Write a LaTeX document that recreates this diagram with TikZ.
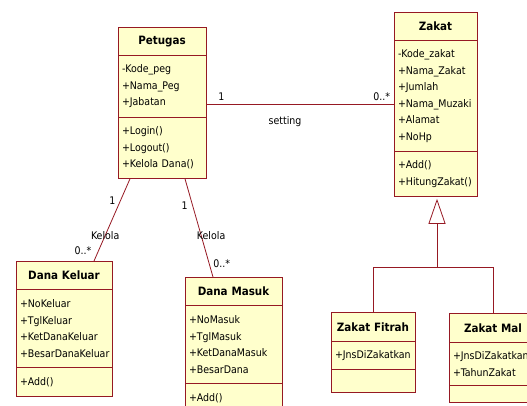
\documentclass[tikz,border=0pt]{standalone}
\usepackage{fontspec}
\setmainfont{DejaVu Sans Condensed}
\usetikzlibrary{arrows.meta,positioning,chains,calc}
\definecolor{umlred}{RGB}{150,25,35}
\definecolor{umlfill}{RGB}{255,255,204}
\newcommand\umlfont{\fontsize{10.5}{16.5}\selectfont\hyphenpenalty=10000\exhyphenpenalty=10000}
\edef\namehead{28pt}
\tikzstyle{classpart}=[draw=umlred,fill=umlfill,line width=0.8pt,inner xsep=4pt,inner ysep=0pt,font=\umlfont]
\tikzstyle{classname}=[classpart,align=center,font=\umlfont\fontsize{11.5}{16.5}\selectfont\bfseries]
\tikzstyle{classbody}=[classpart,align=left]
\tikzstyle{umlline}=[draw=umlred,line width=0.8pt]
\tikzstyle{umllabel}=[font=\umlfont,inner sep=1pt]

\begin{document}
\begin{tikzpicture}[x=1pt,y=-1pt]
	\useasboundingbox (0,0) rectangle (527,405);
	% Petugas
	\begin{scope}[start chain=petugas going below, node distance=-0.8pt, every node/.append style={text width=80pt}]
	\node [on chain,classname,minimum height=\namehead,anchor=north] (pt-head) at (162,27) {Petugas};
	\node [on chain,classbody,minimum height=62pt] (pt-attr) {-Kode\_peg\\+Nama\_Peg\\+Jabatan};
	\node [on chain,classbody,minimum height=61pt] (pt-ops) {+Login()\\+Logout()\\+Kelola Dana()};
	\end{scope}
	% Zakat
	\begin{scope}[start chain=zakat going below, node distance=-0.8pt, every node/.append style={text width=75pt}]
	\node [on chain,classname,minimum height=\namehead,anchor=north] (zk-head) at (435.5,12) {Zakat};
	\node [on chain,classbody,minimum height=111pt] (zk-attr) {-Kode\_zakat\\+Nama\_Zakat\\+Jumlah\\+Nama\_Muzaki\\+Alamat\\+NoHp};
	\node [on chain,classbody,minimum height=45pt] (zk-ops) {+Add()\\+HitungZakat()};
	\end{scope}
	% Dana Keluar
	\begin{scope}[start chain=keluar going below, node distance=-0.8pt, every node/.append style={text width=88pt}]
	\node [on chain,classname,minimum height=\namehead,anchor=north] (dk-head) at (64,261) {Dana Keluar};
	\node [on chain,classbody,minimum height=78pt] (dk-attr) {+NoKeluar\\+TglKeluar\\+KetDanaKeluar\\+BesarDanaKeluar};
	\node [on chain,classbody,minimum height=29pt] (dk-ops) {+Add()};
	\end{scope}
	% Dana Masuk
	\begin{scope}[start chain=masuk going below, node distance=-0.8pt, every node/.append style={text width=89pt}]
	\node [on chain,classname,minimum height=\namehead,anchor=north] (dm-head) at (233.5,277) {Dana Masuk};
	\node [on chain,classbody,minimum height=78pt] (dm-attr) {+NoMasuk\\+TglMasuk\\+KetDanaMasuk\\+BesarDana};
	\node [on chain,classbody,minimum height=29pt] (dm-ops) {+Add()};
	\end{scope}
	% Zakat Fitrah
	\begin{scope}[start chain=fitrah going below, node distance=-0.8pt, every node/.append style={text width=76pt}]
	\node [on chain,classname,minimum height=29pt,anchor=north] (zf-head) at (373,312) {Zakat Fitrah};
	\node [on chain,classbody,minimum height=28pt] (zf-attr) {+JnsDiZakatkan};
	\node [on chain,classbody,minimum height=23pt] (zf-ops) {};
	\end{scope}
	% Zakat Mal
	\begin{scope}[start chain=mal going below, node distance=-0.8pt, every node/.append style={text width=80pt}]
	\node [on chain,classname,minimum height=29pt,anchor=north] (zm-head) at (493,313) {Zakat Mal};
	\node [on chain,classbody,minimum height=43pt] (zm-attr) {+JnsDiZakatkan\\+TahunZakat};
	\node [on chain,classbody,minimum height=17pt] (zm-ops) {};
	\end{scope}
	
	% associations
	\coordinate (set-a) at ([yshift=-18pt]pt-attr.east);
	\draw[umlline] (set-a) -- (set-a -| zk-attr.west)
		node[umllabel,pos=0.08,above=3pt] {1}
		node[umllabel,pos=1,above left=3pt] {0..*}
		node[umllabel,pos=0.42,below=11pt] {setting};
	\draw[umlline] ([xshift=-32pt]pt-ops.south) -- ([xshift=30pt]dk-head.north)
		node[umllabel,pos=0.27,left=3.5pt] {1}
		node[umllabel,pos=0.69] {Kelola}
		node[umllabel,pos=0.87,left=6pt] {0..*};
	\draw[umlline] ([xshift=23pt]pt-ops.south) -- ([xshift=-20.5pt]dm-head.north)
		node[umllabel,pos=0.27,left=3.5pt] {1}
		node[umllabel,pos=0.576,xshift=10pt] {Kelola}
		node[umllabel,pos=0.86,right=3pt] {0..*};
	
	% generalization
	\coordinate (gen) at ($(zk-ops.south)+(1.5,71)$);
	\draw[umlline,-{Triangle[open,length=25pt,width=17pt]},shorten >=2pt] (gen) -- (gen |- zk-ops.south);
	\draw[umlline] (zf-head.north) |- (gen) -| (zm-head.north);
\end{tikzpicture}
\end{document}
